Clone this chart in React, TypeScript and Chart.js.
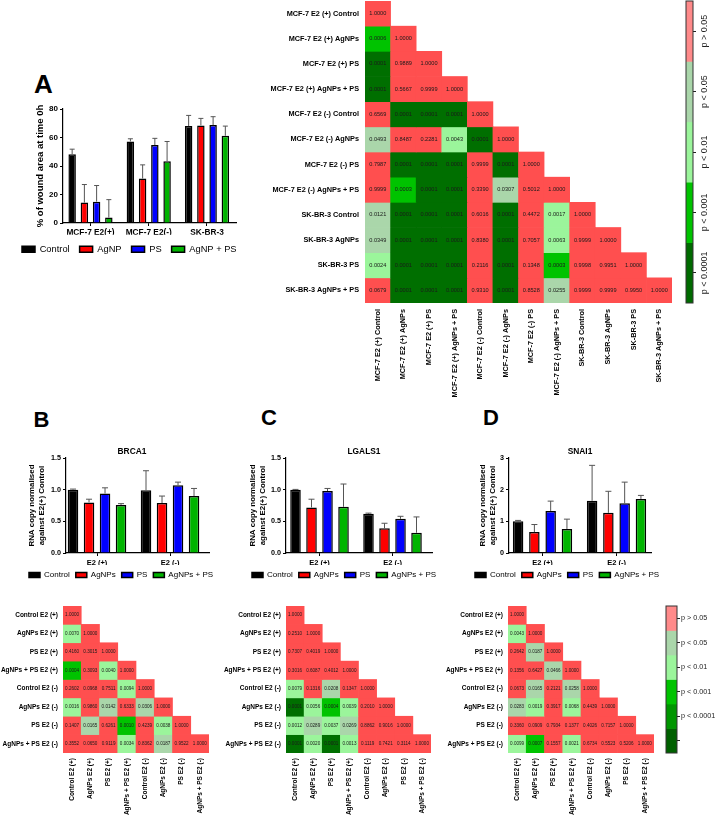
import React, { useEffect, useRef } from "react";
import { Chart, registerables } from "chart.js";

Chart.register(...registerables);

const FONT = "'Liberation Sans', Arial, Helvetica, sans-serif";
Chart.defaults.font.family = FONT;
Chart.defaults.color = "#000";

// ---------- treatment colours ----------
const treatColors = ["#000000", "#FF0000", "#0000FF", "#00B400"];

// ---------- Panel A: wound area ----------
const woundGroups = ["MCF-7 E2(+)", "MCF-7 E2(-)", "SK-BR-3"];
const woundLabels = ["Control", "AgNP", "PS", "AgNP + PS"];
const woundControl = [48.3, 57.2, 68.0];
const woundControlSd = [3.5, 1.9, 7.5];
const woundAgNP = [14.3, 31.2, 68.5];
const woundAgNPSd = [12.7, 9.6, 4.9];
const woundPS = [15.0, 54.7, 68.7];
const woundPSSd = [11.3, 4.7, 5.9];
const woundCombo = [3.8, 43.4, 61.2];
const woundComboSd = [12.6, 13.8, 6.8];
const woundTicks = [0, 20, 40, 60, 80];

// ---------- Panels B-D: RNA copy ----------
const e2Groups = ["E2 (+)", "E2 (-)"];
const rnaLabels = ["Control", "AgNPs", "PS", "AgNPs + PS"];

const brca1Control = [1.0, 0.99];
const brca1ControlSd = [0.01, 0.31];
const brca1AgNPs = [0.8, 0.79];
const brca1AgNPsSd = [0.05, 0.11];
const brca1PS = [0.94, 1.07];
const brca1PSSd = [0.09, 0.05];
const brca1Combo = [0.76, 0.9];
const brca1ComboSd = [0.02, 0.12];

const lgals1Control = [1.0, 0.62];
const lgals1ControlSd = [0.005, 0.01];
const lgals1AgNPs = [0.72, 0.39];
const lgals1AgNPsSd = [0.13, 0.08];
const lgals1PS = [0.98, 0.54];
const lgals1PSSd = [0.04, 0.04];
const lgals1Combo = [0.73, 0.32];
const lgals1ComboSd = [0.36, 0.25];

const snai1Control = [1.0, 1.65];
const snai1ControlSd = [0.03, 1.12];
const snai1AgNPs = [0.66, 1.27];
const snai1AgNPsSd = [0.24, 0.68];
const snai1PS = [1.33, 1.57];
const snai1PSSd = [0.31, 0.67];
const snai1Combo = [0.76, 1.71];
const snai1ComboSd = [0.31, 0.11];

// ---------- p-value matrices (lower triangle, row by row) ----------
const woundConditions = [
  "MCF-7 E2 (+) Control",
  "MCF-7 E2 (+) AgNPs",
  "MCF-7 E2 (+) PS",
  "MCF-7 E2 (+) AgNPs + PS",
  "MCF-7 E2 (-) Control",
  "MCF-7 E2 (-) AgNPs",
  "MCF-7 E2 (-) PS",
  "MCF-7 E2 (-) AgNPs + PS",
  "SK-BR-3 Control",
  "SK-BR-3 AgNPs",
  "SK-BR-3 PS",
  "SK-BR-3 AgNPs + PS",
];
const woundP = [
  [1.0],
  [0.0006, 1.0],
  [0.0001, 0.9889, 1.0],
  [0.0001, 0.5667, 0.9999, 1.0],
  [0.6569, 0.0001, 0.0001, 0.0001, 1.0],
  [0.0493, 0.8487, 0.2281, 0.0043, 0.0001, 1.0],
  [0.7987, 0.0001, 0.0001, 0.0001, 0.9999, 0.0001, 1.0],
  [0.9999, 0.0003, 0.0001, 0.0001, 0.339, 0.0307, 0.5012, 1.0],
  [0.0121, 0.0001, 0.0001, 0.0001, 0.6016, 0.0001, 0.4472, 0.0017, 1.0],
  [0.0349, 0.0001, 0.0001, 0.0001, 0.838, 0.0001, 0.7057, 0.0063, 0.9999, 1.0],
  [0.0024, 0.0001, 0.0001, 0.0001, 0.2116, 0.0001, 0.1348, 0.0003, 0.9998, 0.9951, 1.0],
  [0.0679, 0.0001, 0.0001, 0.0001, 0.931, 0.0001, 0.8528, 0.0255, 0.9999, 0.9999, 0.995, 1.0],
];

const rnaConditions = [
  "Control E2 (+)",
  "AgNPs E2 (+)",
  "PS E2 (+)",
  "AgNPs + PS E2 (+)",
  "Control E2 (-)",
  "AgNPs E2 (-)",
  "PS E2 (-)",
  "AgNPs + PS E2 (-)",
];
const brca1P = [
  [1.0],
  [0.007, 1.0],
  [0.416, 0.3015, 1.0],
  [0.0004, 0.3093, 0.004, 1.0],
  [0.2602, 0.0968, 0.7511, 0.0094, 1.0],
  [0.0016, 0.986, 0.0142, 0.6333, 0.0306, 1.0],
  [0.1407, 0.0165, 0.6261, 0.001, 0.4239, 0.0038, 1.0],
  [0.3552, 0.065, 0.9119, 0.0034, 0.8362, 0.0187, 0.9522, 1.0],
];
const lgals1P = [
  [1.0],
  [0.251, 1.0],
  [0.7307, 0.4019, 1.0],
  [0.3016, 0.6087, 0.4012, 1.0],
  [0.0079, 0.1316, 0.0208, 0.1347, 1.0],
  [0.0001, 0.0056, 0.0004, 0.0039, 0.201, 1.0],
  [0.0012, 0.0289, 0.0037, 0.0269, 0.8862, 0.9016, 1.0],
  [0.0001, 0.002, 0.0001, 0.0013, 0.1119, 0.7421, 0.3114, 1.0],
];
const snai1P = [
  [1.0],
  [0.0043, 1.0],
  [0.2642, 0.0187, 1.0],
  [0.1356, 0.6427, 0.0466, 1.0],
  [0.0673, 0.0165, 0.2121, 0.0258, 1.0],
  [0.0283, 0.0019, 0.3917, 0.0068, 0.4439, 1.0],
  [0.336, 0.0909, 0.7934, 0.1377, 0.4026, 0.7157, 1.0],
  [0.0099, 0.0007, 0.1557, 0.0021, 0.6734, 0.5523, 0.5206, 1.0],
];

const sigLabels = ["p > 0.05", "p < 0.05", "p < 0.01", "p < 0.001", "p < 0.0001"];

// ---------- significance colours ----------
const cellColors = ["#FF4F4F", "#AAD6AA", "#9BF59B", "#00C300", "#006F00"];
const barColorsTop = ["#FF8A8A", "#AAD6AA", "#9BF59B", "#00C300", "#006A00"];
const barColorsBottom = ["#FF8A8A", "#AAD6AA", "#9BF59B", "#00C300", "#009600", "#006000"];

function sigColor(p: number) {
  if (p <= 0.0001) return cellColors[4];
  if (p <= 0.001) return cellColors[3];
  if (p < 0.01) return cellColors[2];
  if (p < 0.05) return cellColors[1];
  return cellColors[0];
}

// vertical axes: keep the chart area exactly where the layout puts it
function fixWidth(width: number) {
  return (s: any) => {
    s.width = width;
    s.paddingTop = 0;
    s.paddingBottom = 0;
  };
}
function fixHeight(height: number) {
  return (s: any) => {
    s.height = height;
    s.paddingLeft = 0;
    s.paddingRight = 0;
  };
}

// ---------- plugins ----------
const errorBars = {
  id: "errorBars",
  afterDatasetsDraw(chart: any, _a: any, o: any) {
    const { ctx } = chart;
    const ys = chart.scales.y;
    chart.data.datasets.forEach((ds: any, di: number) => {
      const meta = chart.getDatasetMeta(di);
      meta.data.forEach((bar: any, i: number) => {
        const v = ds.data[i].y;
        const e = ds.errors ? ds.errors[i] : 0;
        if (!e) return;
        const x = bar.x;
        const y0 = ys.getPixelForValue(v);
        const y1 = ys.getPixelForValue(v + e);
        ctx.save();
        ctx.strokeStyle = o.color;
        ctx.lineWidth = 1;
        ctx.beginPath();
        ctx.moveTo(x, y0);
        ctx.lineTo(x, y1);
        ctx.moveTo(x - o.cap, y1);
        ctx.lineTo(x + o.cap, y1);
        ctx.stroke();
        ctx.restore();
      });
    });
  },
};

const cellValues = {
  id: "cellValues",
  afterDatasetsDraw(chart: any, _a: any, o: any) {
    const { ctx } = chart;
    ctx.save();
    ctx.font = `${o.size}px ${FONT}`;
    ctx.fillStyle = o.color;
    ctx.textAlign = "center";
    ctx.textBaseline = "middle";
    chart.data.datasets.forEach((ds: any, di: number) => {
      const meta = chart.getDatasetMeta(di);
      ds.pValues.forEach((p: number, c: number) => {
        const el = meta.data[c];
        if (!el) return;
        const { x, y, base } = el.getProps(["x", "y", "base"], true);
        ctx.fillText(p.toFixed(4), x, (y + base) / 2);
      });
    });
    ctx.restore();
  },
};

const frame = {
  id: "frame",
  afterDatasetsDraw(chart: any, _a: any, o: any) {
    const { ctx, chartArea: a } = chart;
    ctx.save();
    ctx.strokeStyle = o.color;
    ctx.lineWidth = 1;
    ctx.strokeRect(a.left, a.top, a.right - a.left, a.bottom - a.top);
    ctx.restore();
  },
};

const bandLabels = {
  id: "bandLabels",
  afterDraw(chart: any, _a: any, o: any) {
    if (!o.rotated) return;
    const { ctx, chartArea } = chart;
    const ys = chart.scales.y;
    ctx.save();
    ctx.font = `${o.size}px ${FONT}`;
    ctx.fillStyle = o.color;
    ctx.textAlign = "center";
    ctx.textBaseline = "middle";
    o.labels.forEach((t: string, i: number) => {
      ctx.save();
      ctx.translate(chartArea.right + o.offset, ys.getPixelForValue(i + 0.5));
      ctx.rotate(-Math.PI / 2);
      ctx.fillText(t, 0, 0);
      ctx.restore();
    });
    ctx.restore();
  },
};

// ---------- grouped bar chart with upper error bars ----------
type Series = { label: string; values: number[]; errors: number[]; color: string };

function barConfig(o: {
  groups: string[];
  series: Series[];
  yMax: number;
  yStep: number;
  yDigits: number;
  xMin: number;
  xMax: number;
  catPct: number;
  barPct: number;
  pad: { left: number; top: number; right: number; bottom: number };
  yWidth: number;
  xHeight: number;
  rightGap: number;
  title?: string;
  yTitle: string | string[];
  yTitleSize: number;
  yTitlePad: number;
  tickSize: number;
  groupSize: number;
  legendSize: number;
  legendBoxW: number;
  legendBoxH: number;
  legendPad: number;
  cap: number;
}) {
  return {
    type: "bar",
    data: {
      datasets: o.series.map((s) => ({
        label: s.label,
        data: s.values.map((v, i) => ({ x: i, y: v })),
        errors: s.errors,
        backgroundColor: s.color,
        borderColor: "#000",
        borderWidth: 1.5,
        categoryPercentage: o.catPct,
        barPercentage: o.barPct,
      })),
    },
    options: {
      responsive: false,
      animation: false,
      devicePixelRatio: 1,
      events: [],
      layout: { padding: o.pad, autoPadding: false },
      plugins: {
        tooltip: { enabled: false },
        title: o.title
          ? {
              display: true,
              text: o.title,
              color: "#000",
              font: { size: 8.4, weight: "bold" },
              padding: { top: 0, bottom: 1 },
              fullSize: true,
            }
          : { display: false },
        legend: {
          display: true,
          position: "bottom",
          align: "start",
          labels: {
            boxWidth: o.legendBoxW,
            boxHeight: o.legendBoxH,
            padding: o.legendPad,
            color: "#000",
            font: { size: o.legendSize },
          },
        },
        errorBars: { color: "#555", cap: o.cap },
      },
      scales: {
        x: {
          type: "linear",
          min: o.xMin,
          max: o.xMax,
          offset: false,
          afterBuildTicks: (s: any) => {
            s.ticks = o.groups.map((_, i) => ({ value: i }));
          },
          ticks: {
            autoSkip: false,
            minRotation: 0,
            maxRotation: 0,
            padding: 2,
            color: "#000",
            font: { size: o.groupSize, weight: "bold" },
            callback: (v: number) => o.groups[v] ?? "",
          },
          grid: { display: true, drawOnChartArea: false, drawTicks: true, tickLength: 3, color: "#000", offset: false },
          border: { display: true, color: "#000", width: 1.2 },
          afterFit: fixHeight(o.xHeight),
        },
        y: {
          type: "linear",
          min: 0,
          max: o.yMax,
          ticks: {
            stepSize: o.yStep,
            padding: 2,
            color: "#000",
            font: { size: o.tickSize, weight: "bold" },
            callback: (v: number) => Number(v).toFixed(o.yDigits),
          },
          grid: { display: true, drawOnChartArea: false, drawTicks: true, tickLength: 3, color: "#000" },
          border: { display: true, color: "#000", width: 1.2 },
          title: {
            display: true,
            text: o.yTitle,
            color: "#000",
            font: { size: o.yTitleSize, weight: "bold" },
            padding: { top: o.yTitlePad, bottom: 0 },
          },
          afterFit: fixWidth(o.yWidth),
        },
        gap: {
          type: "linear",
          position: "right",
          display: true,
          ticks: { display: false },
          grid: { display: false, drawTicks: false },
          border: { display: false },
          afterFit: fixWidth(o.rightGap),
        },
      },
    },
    plugins: [errorBars],
  };
}

// ---------- lower-triangle p-value heatmap ----------
function heatConfig(o: {
  labels: string[];
  values: number[][];
  yWidth: number;
  xHeight: number;
  pad: { left: number; top: number; right: number; bottom: number };
  labelSize: number;
  labelPad: number;
  valueSize: number;
}) {
  const n = o.labels.length;
  return {
    type: "bar",
    data: {
      labels: o.labels,
      datasets: o.values.map((row, r) => ({
        data: o.labels.map((_, c) => (c <= r ? [r - 0.5, r + 0.5] : null)),
        backgroundColor: o.labels.map((_, c) => (c <= r ? sigColor(row[c]) : "rgba(0,0,0,0)")),
        pValues: row,
        grouped: false,
        barPercentage: 1,
        categoryPercentage: 1,
        borderWidth: 0,
      })),
    },
    options: {
      responsive: false,
      animation: false,
      devicePixelRatio: 1,
      events: [],
      layout: { padding: o.pad, autoPadding: false },
      plugins: {
        tooltip: { enabled: false },
        legend: { display: false },
        cellValues: { size: o.valueSize, color: "#1a1a1a" },
      },
      scales: {
        x: {
          type: "category",
          offset: true,
          ticks: {
            autoSkip: false,
            minRotation: 90,
            maxRotation: 90,
            padding: o.labelPad,
            color: "#000",
            font: { size: o.labelSize, weight: "bold" },
          },
          grid: { display: false, drawTicks: false },
          border: { display: false },
          afterFit: fixHeight(o.xHeight),
        },
        y: {
          type: "linear",
          min: -0.5,
          max: n - 0.5,
          reverse: true,
          afterBuildTicks: (s: any) => {
            s.ticks = o.labels.map((_, i) => ({ value: i }));
          },
          ticks: {
            autoSkip: false,
            padding: o.labelPad,
            color: "#000",
            font: { size: o.labelSize, weight: "bold" },
            callback: (v: number) => o.labels[v] ?? "",
          },
          grid: { display: false, drawTicks: false },
          border: { display: false },
          afterFit: fixWidth(o.yWidth),
        },
      },
    },
    plugins: [cellValues],
  };
}

// ---------- significance colour bar ----------
function colorBarConfig(o: {
  colors: string[];
  labels: string[];
  rotated: boolean;
  pad: { left: number; top: number; right: number; bottom: number };
  axisWidth: number;
  labelSize: number;
  labelOffset: number;
}) {
  const n = o.colors.length;
  return {
    type: "bar",
    data: {
      labels: [""],
      datasets: o.colors.map((c, i) => ({
        data: [[i, i + 1]],
        backgroundColor: c,
        grouped: false,
        barPercentage: 1,
        categoryPercentage: 1,
        borderWidth: 0,
      })),
    },
    options: {
      responsive: false,
      animation: false,
      devicePixelRatio: 1,
      events: [],
      layout: { padding: o.pad, autoPadding: false },
      plugins: {
        tooltip: { enabled: false },
        legend: { display: false },
        frame: { color: "#333" },
        bandLabels: {
          rotated: o.rotated,
          labels: o.labels,
          size: o.labelSize,
          color: "#222",
          offset: o.labelOffset,
        },
      },
      scales: {
        x: { type: "category", display: false },
        y: {
          type: "linear",
          position: "right",
          min: 0,
          max: n,
          reverse: true,
          afterBuildTicks: (s: any) => {
            s.ticks = o.colors.map((_, i) => ({ value: i + 0.5 }));
          },
          ticks: {
            display: !o.rotated,
            autoSkip: false,
            padding: 1,
            color: "#222",
            font: { size: o.labelSize },
            callback: (v: number) => o.labels[Math.floor(v)] ?? "",
          },
          grid: { display: true, drawOnChartArea: false, drawTicks: true, tickLength: 3, color: "#222" },
          border: { display: false },
          afterFit: fixWidth(o.axisWidth),
        },
      },
    },
    plugins: [frame, bandLabels],
  };
}

// ---------- canvas host ----------
function ChartCanvas(props: { left: number; top: number; width: number; height: number; make: () => any }) {
  const ref = useRef<HTMLCanvasElement>(null);
  useEffect(() => {
    const chart = new Chart(ref.current as HTMLCanvasElement, props.make());
    return () => chart.destroy();
  }, []);
  return (
    <canvas
      ref={ref}
      width={props.width}
      height={props.height}
      style={{ position: "absolute", left: props.left, top: props.top, width: props.width, height: props.height }}
    />
  );
}

function PanelLetter(props: { text: string; left: number; top: number; size: number }) {
  return (
    <div
      style={{
        position: "absolute",
        left: props.left,
        top: props.top,
        fontFamily: FONT,
        fontWeight: "bold",
        fontSize: props.size,
        lineHeight: 1,
        color: "#000",
      }}
    >
      {props.text}
    </div>
  );
}

function rnaSeries(vals: number[][], sds: number[][]): Series[] {
  return rnaLabels.map((label, i) => ({ label, values: vals[i], errors: sds[i], color: treatColors[i] }));
}

const rnaCommon = {
  groups: e2Groups,
  yDigits: 1,
  yTitle: ["RNA copy normalised", "against E2(+) Control"],
  yTitleSize: 7.9,
  tickSize: 7.2,
  groupSize: 7.5,
  legendSize: 8,
  legendBoxW: 11,
  legendBoxH: 5,
  legendPad: 6,
  xHeight: 12,
  cap: 3,
};

export default function App() {
  return (
    <div
      style={{
        position: "absolute",
        left: 0,
        top: 0,
        width: 715,
        height: 817,
        overflow: "hidden",
        background: "#fff",
      }}
    >
      <PanelLetter text="A" left={34} top={70.6} size={26} />
      <PanelLetter text="B" left={33.5} top={408.5} size={22} />
      <PanelLetter text="C" left={261} top={407} size={22} />
      <PanelLetter text="D" left={483} top={407} size={22} />

      <ChartCanvas
        left={0}
        top={95}
        width={250}
        height={169}
        make={() =>
          barConfig({
            groups: woundGroups,
            series: [
              { label: woundLabels[0], values: woundControl, errors: woundControlSd, color: treatColors[0] },
              { label: woundLabels[1], values: woundAgNP, errors: woundAgNPSd, color: treatColors[1] },
              { label: woundLabels[2], values: woundPS, errors: woundPSSd, color: treatColors[2] },
              { label: woundLabels[3], values: woundCombo, errors: woundComboSd, color: treatColors[3] },
            ],
            yMax: woundTicks[woundTicks.length - 1],
            yStep: woundTicks[1] - woundTicks[0],
            yDigits: 0,
            xMin: -0.472,
            xMax: 2.498,
            catPct: 0.84,
            barPct: 0.61,
            pad: { left: 12, top: 14, right: 0, bottom: 0 },
            yWidth: 51,
            xHeight: 11.7,
            rightGap: 14,
            yTitle: "% of wound area at time 0h",
            yTitleSize: 9.5,
            yTitlePad: 22.3,
            tickSize: 8,
            groupSize: 8.3,
            legendSize: 9.3,
            legendBoxW: 13,
            legendBoxH: 6,
            legendPad: 10,
            cap: 2.5,
          })
        }
      />

      <ChartCanvas
        left={240}
        top={0}
        width={432}
        height={440}
        make={() =>
          heatConfig({
            labels: woundConditions,
            values: woundP,
            yWidth: 125,
            xHeight: 137,
            pad: { left: 0, top: 1, right: 0, bottom: 0 },
            labelSize: 7.3,
            labelPad: 6,
            valueSize: 5.6,
          })
        }
      />

      <ChartCanvas
        left={680}
        top={0}
        width={35}
        height={310}
        make={() =>
          colorBarConfig({
            colors: barColorsTop,
            labels: sigLabels,
            rotated: true,
            pad: { left: 6, top: 1, right: 0, bottom: 7 },
            axisWidth: 22,
            labelSize: 9,
            labelOffset: 12,
          })
        }
      />

      <ChartCanvas
        left={0}
        top={445}
        width={241}
        height={144}
        make={() =>
          barConfig({
            ...rnaCommon,
            series: rnaSeries(
              [brca1Control, brca1AgNPs, brca1PS, brca1Combo],
              [brca1ControlSd, brca1AgNPsSd, brca1PSSd, brca1ComboSd]
            ),
            title: "BRCA1",
            yMax: 1.5,
            yStep: 0.5,
            xMin: -0.425,
            xMax: 1.534,
            catPct: 0.877,
            barPct: 0.66,
            pad: { left: 23, top: 2, right: 0, bottom: 0 },
            yWidth: 43,
            rightGap: 32,
            yTitlePad: 4.25,
          })
        }
      />

      <ChartCanvas
        left={240}
        top={445}
        width={242}
        height={144}
        make={() =>
          barConfig({
            ...rnaCommon,
            series: rnaSeries(
              [lgals1Control, lgals1AgNPs, lgals1PS, lgals1Combo],
              [lgals1ControlSd, lgals1AgNPsSd, lgals1PSSd, lgals1ComboSd]
            ),
            title: "LGALS1",
            yMax: 1.5,
            yStep: 0.5,
            xMin: -0.459,
            xMax: 1.541,
            catPct: 0.877,
            barPct: 0.66,
            pad: { left: 6, top: 2, right: 0, bottom: 0 },
            yWidth: 40,
            rightGap: 50,
            yTitlePad: 2.25,
          })
        }
      />

      <ChartCanvas
        left={465}
        top={445}
        width={226}
        height={144}
        make={() =>
          barConfig({
            ...rnaCommon,
            series: rnaSeries(
              [snai1Control, snai1AgNPs, snai1PS, snai1Combo],
              [snai1ControlSd, snai1AgNPsSd, snai1PSSd, snai1ComboSd]
            ),
            title: "SNAI1",
            yMax: 3,
            yStep: 1,
            yDigits: 0,
            xMin: -0.453,
            xMax: 1.466,
            catPct: 0.88,
            barPct: 0.645,
            pad: { left: 4, top: 2, right: 0, bottom: 0 },
            yWidth: 40,
            rightGap: 40,
            yTitlePad: 9.26,
          })
        }
      />

      <ChartCanvas
        left={0}
        top={596}
        width={215}
        height={221}
        make={() =>
          heatConfig({
            labels: rnaConditions,
            values: brca1P,
            yWidth: 63,
            xHeight: 64,
            pad: { left: 0, top: 10, right: 6, bottom: 0 },
            labelSize: 6.5,
            labelPad: 5,
            valueSize: 4.6,
          })
        }
      />
      <ChartCanvas
        left={220}
        top={596}
        width={215}
        height={221}
        make={() =>
          heatConfig({
            labels: rnaConditions,
            values: lgals1P,
            yWidth: 66,
            xHeight: 64,
            pad: { left: 0, top: 10, right: 4, bottom: 0 },
            labelSize: 6.5,
            labelPad: 5,
            valueSize: 4.6,
          })
        }
      />
      <ChartCanvas
        left={440}
        top={596}
        width={218}
        height={221}
        make={() =>
          heatConfig({
            labels: rnaConditions,
            values: snai1P,
            yWidth: 68,
            xHeight: 64,
            pad: { left: 0, top: 10, right: 4, bottom: 0 },
            labelSize: 6.5,
            labelPad: 5,
            valueSize: 4.6,
          })
        }
      />

      <ChartCanvas
        left={660}
        top={600}
        width={55}
        height={160}
        make={() =>
          colorBarConfig({
            colors: barColorsBottom,
            labels: sigLabels,
            rotated: false,
            pad: { left: 6, top: 6, right: 0, bottom: 7 },
            axisWidth: 38,
            labelSize: 7.2,
            labelOffset: 0,
          })
        }
      />
    </div>
  );
}
